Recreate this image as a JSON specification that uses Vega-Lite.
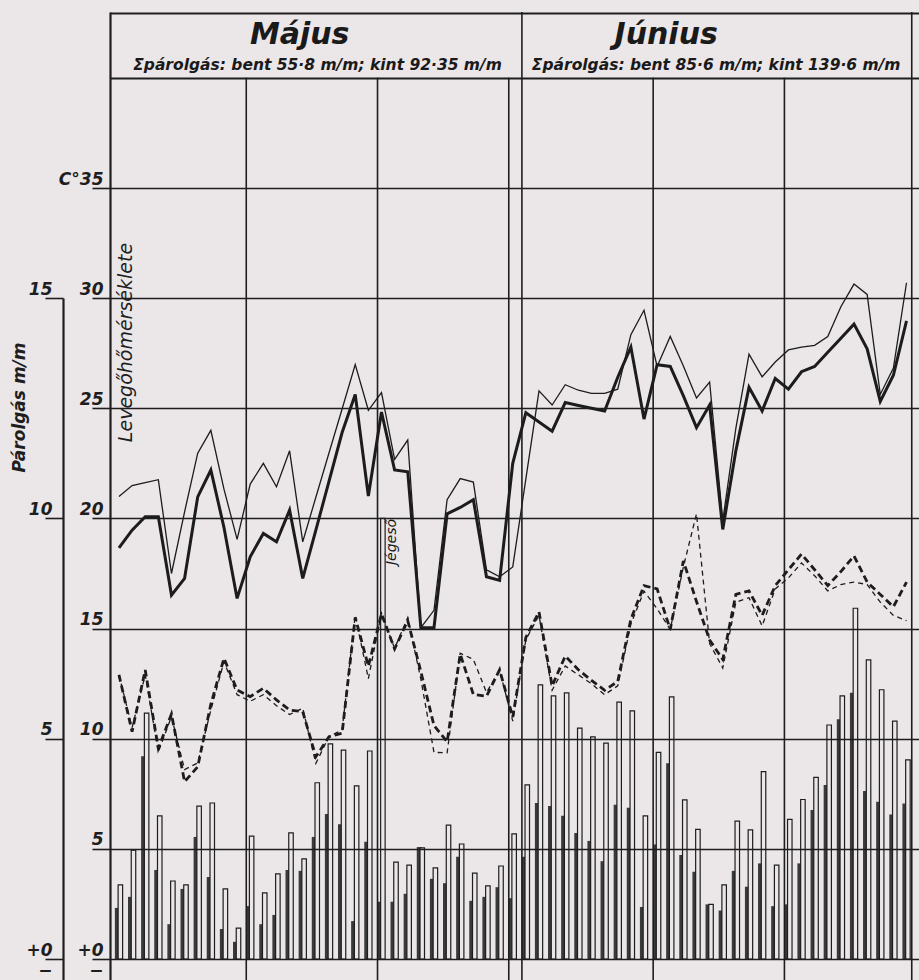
{
  "$schema": "https://vega.github.io/schema/vega-lite/v6.json",
  "width": 809,
  "height": 968,
  "autosize": {"type": "none"},
  "padding": {"left": 110, "top": 12, "right": 0, "bottom": 0},
  "background": "#ebe6e8",
  "config": {"view": {"stroke": null}, "font": "DejaVu Sans"},
  "datasets": {
    "napok": [
      {"nap":1,"bent":1.16,"kint":1.68,"vekony":21.0,"vastag":18.66,"szv":12.9,"szk":12.9},
      {"nap":2,"bent":1.41,"kint":2.47,"vekony":21.49,"vastag":19.47,"szv":10.32,"szk":10.5},
      {"nap":3,"bent":4.6,"kint":5.58,"vekony":21.63,"vastag":20.08,"szv":13.12,"szk":12.9},
      {"nap":4,"bent":2.02,"kint":3.25,"vekony":21.76,"vastag":20.08,"szv":9.56,"szk":9.4},
      {"nap":5,"bent":0.79,"kint":1.77,"vekony":17.5,"vastag":16.52,"szv":11.12,"szk":11.0},
      {"nap":6,"bent":1.59,"kint":1.68,"vekony":20.3,"vastag":17.28,"szv":8.05,"szk":8.6},
      {"nap":7,"bent":2.77,"kint":3.47,"vekony":22.96,"vastag":20.98,"szv":8.73,"szk":8.9},
      {"nap":8,"bent":1.86,"kint":3.54,"vekony":24.0,"vastag":22.2,"szv":11.57,"szk":11.3},
      {"nap":9,"bent":0.68,"kint":1.59,"vekony":21.33,"vastag":19.59,"szv":13.65,"szk":13.5},
      {"nap":10,"bent":0.39,"kint":0.7,"vekony":19.05,"vastag":16.37,"szv":12.21,"szk":12.0},
      {"nap":11,"bent":1.2,"kint":2.79,"vekony":21.56,"vastag":18.26,"szv":11.91,"szk":11.7},
      {"nap":12,"bent":0.79,"kint":1.5,"vekony":22.5,"vastag":19.32,"szv":12.29,"szk":12.0},
      {"nap":13,"bent":1.0,"kint":1.93,"vekony":21.44,"vastag":18.94,"szv":11.76,"szk":11.5},
      {"nap":14,"bent":2.02,"kint":2.86,"vekony":23.07,"vastag":20.38,"szv":11.3,"szk":11.1},
      {"nap":15,"bent":2.0,"kint":2.27,"vekony":18.94,"vastag":17.28,"szv":11.23,"szk":11.38},
      {"nap":16,"bent":2.77,"kint":4.0,"vekony":20.96,"vastag":19.47,"szv":9.18,"szk":8.88},
      {"nap":17,"bent":3.29,"kint":4.88,"vekony":22.97,"vastag":21.68,"szv":10.09,"szk":10.1},
      {"nap":18,"bent":3.06,"kint":4.74,"vekony":24.97,"vastag":23.9,"szv":10.25,"szk":10.4},
      {"nap":19,"bent":0.86,"kint":3.93,"vekony":26.98,"vastag":25.63,"szv":15.51,"szk":15.6},
      {"nap":20,"bent":2.66,"kint":4.72,"vekony":24.91,"vastag":21.02,"szv":13.29,"szk":12.73},
      {"nap":21,"bent":1.3,"kint":10.0,"vekony":25.71,"vastag":24.83,"szv":15.67,"szk":15.7},
      {"nap":22,"bent":1.3,"kint":2.2,"vekony":22.68,"vastag":22.2,"szv":14.08,"szk":14.1},
      {"nap":23,"bent":1.48,"kint":2.13,"vekony":23.56,"vastag":22.12,"szv":15.36,"szk":15.5},
      {"nap":24,"bent":2.54,"kint":2.52,"vekony":15.04,"vastag":15.04,"szv":13.05,"szk":12.7},
      {"nap":25,"bent":1.82,"kint":2.07,"vekony":15.83,"vastag":15.04,"szv":10.6,"szk":9.38},
      {"nap":26,"bent":1.72,"kint":3.04,"vekony":20.85,"vastag":20.21,"szv":9.86,"szk":9.36},
      {"nap":27,"bent":2.32,"kint":2.61,"vekony":21.81,"vastag":20.5,"szv":13.84,"szk":13.88},
      {"nap":28,"bent":1.32,"kint":1.95,"vekony":21.65,"vastag":20.85,"szv":12.01,"szk":13.6},
      {"nap":29,"bent":1.41,"kint":1.66,"vekony":17.67,"vastag":17.35,"szv":11.93,"szk":12.1},
      {"nap":30,"bent":1.63,"kint":2.11,"vekony":17.35,"vastag":17.19,"szv":13.13,"szk":13.1},
      {"nap":31,"bent":1.38,"kint":2.84,"vekony":17.8,"vastag":22.5,"szv":10.98,"szk":10.8},
      {"nap":32,"bent":2.32,"kint":3.95,"vekony":21.8,"vastag":24.8,"szv":14.6,"szk":14.5},
      {"nap":33,"bent":3.54,"kint":6.22,"vekony":25.79,"vastag":24.38,"szv":15.76,"szk":15.6},
      {"nap":34,"bent":3.47,"kint":5.97,"vekony":25.15,"vastag":23.96,"szv":12.4,"szk":12.2},
      {"nap":35,"bent":3.25,"kint":6.04,"vekony":26.07,"vastag":25.26,"szv":13.75,"szk":13.3},
      {"nap":36,"bent":2.86,"kint":5.24,"vekony":25.82,"vastag":25.13,"szv":13.13,"szk":12.9},
      {"nap":37,"bent":2.68,"kint":5.04,"vekony":25.68,"vastag":25.0,"szv":12.65,"szk":12.5},
      {"nap":38,"bent":2.22,"kint":4.9,"vekony":25.68,"vastag":24.88,"szv":12.2,"szk":12.0},
      {"nap":39,"bent":3.5,"kint":5.83,"vekony":25.87,"vastag":26.41,"szv":12.6,"szk":12.4},
      {"nap":40,"bent":3.43,"kint":5.63,"vekony":28.34,"vastag":27.78,"szv":15.43,"szk":15.2},
      {"nap":41,"bent":1.18,"kint":3.25,"vekony":29.45,"vastag":24.51,"szv":16.95,"szk":16.7},
      {"nap":42,"bent":2.6,"kint":4.69,"vekony":26.9,"vastag":26.98,"szv":16.8,"szk":15.9},
      {"nap":43,"bent":4.44,"kint":5.95,"vekony":28.26,"vastag":26.9,"szv":14.96,"szk":14.96},
      {"nap":44,"bent":2.36,"kint":3.61,"vekony":26.92,"vastag":25.56,"szv":18.07,"szk":17.8},
      {"nap":45,"bent":1.98,"kint":2.94,"vekony":25.47,"vastag":24.12,"szv":16.23,"szk":20.21},
      {"nap":46,"bent":1.24,"kint":1.24,"vekony":26.19,"vastag":25.15,"szv":14.48,"szk":14.32},
      {"nap":47,"bent":1.1,"kint":1.68,"vekony":19.9,"vastag":19.5,"szv":13.6,"szk":13.21},
      {"nap":48,"bent":2.0,"kint":3.13,"vekony":24.1,"vastag":23.08,"szv":16.55,"szk":16.2},
      {"nap":49,"bent":1.64,"kint":2.93,"vekony":27.46,"vastag":25.95,"szv":16.71,"szk":16.4},
      {"nap":50,"bent":2.17,"kint":4.25,"vekony":26.43,"vastag":24.88,"szv":15.6,"szk":15.12},
      {"nap":51,"bent":1.2,"kint":2.13,"vekony":27.1,"vastag":26.35,"szv":16.95,"szk":16.8},
      {"nap":52,"bent":1.24,"kint":3.17,"vekony":27.65,"vastag":25.87,"szv":17.67,"szk":17.3},
      {"nap":53,"bent":2.17,"kint":3.62,"vekony":27.78,"vastag":26.66,"szv":18.38,"szk":17.98},
      {"nap":54,"bent":3.38,"kint":4.12,"vekony":27.86,"vastag":26.9,"szv":17.67,"szk":17.4},
      {"nap":55,"bent":3.95,"kint":5.31,"vekony":28.26,"vastag":27.54,"szv":16.95,"szk":16.71},
      {"nap":56,"bent":5.44,"kint":5.97,"vekony":29.61,"vastag":28.18,"szv":17.59,"szk":17.0},
      {"nap":57,"bent":6.04,"kint":7.96,"vekony":30.64,"vastag":28.82,"szv":18.3,"szk":17.11},
      {"nap":58,"bent":3.81,"kint":6.79,"vekony":30.17,"vastag":27.7,"szv":17.11,"szk":17.0},
      {"nap":59,"bent":3.57,"kint":6.11,"vekony":25.63,"vastag":25.31,"szv":16.55,"szk":16.2},
      {"nap":60,"bent":3.28,"kint":5.4,"vekony":26.83,"vastag":26.5,"szv":15.99,"szk":15.6},
      {"nap":61,"bent":3.53,"kint":4.52,"vekony":30.7,"vastag":28.97,"szv":17.11,"szk":15.36}
    ],
    "racs": [
      {"nap":10.5,"tol":-2,"ig":40},
      {"nap":20.5,"tol":-2,"ig":40},
      {"nap":30.5,"tol":-2,"ig":40},
      {"nap":31.5,"tol":-2,"ig":43},
      {"nap":41.5,"tol":-2,"ig":40},
      {"nap":51.5,"tol":-2,"ig":40},
      {"nap":61.2,"tol":-2,"ig":43}
    ],
    "feliratok": [
      {"nap":14.57,"hom":41.55,"szoveg":"Május","tipus":"cim"},
      {"nap":42.49,"hom":41.55,"szoveg":"Június","tipus":"cim"},
      {"nap":15.93,"hom":40.35,"szoveg":"Σpárolgás: bent 55·8 m/m; kint 92·35 m/m","tipus":"al"},
      {"nap":46.3,"hom":40.35,"szoveg":"Σpárolgás: bent 85·6 m/m; kint 139·6 m/m","tipus":"al"},
      {"nap":21.64,"hom":18.93,"szoveg":"Jégeső","tipus":"jeg"}
    ]
  },
  "layer": [
    {
      "data": {"name": "napok"},
      "encoding": {
        "x": {"field": "nap", "type": "quantitative", "scale": {"domain": [0.5, 61.372], "nice": false, "zero": false}, "axis": null}
      },
      "layer": [
        {
          "mark": {"type": "bar", "width": 5, "color": "#3a3a3a", "xOffset": -4.2},
          "encoding": {
            "y": {"field": "bent", "type": "quantitative",
              "scale": {"domain": [-0.4765, 15], "range": [968, 286], "nice": false, "zero": false},
              "axis": {
                "orient": "left", "offset": 47, "values": [0, 5, 10, 15],
                "domain": true, "domainColor": "#1e1e1e", "domainWidth": 2.2,
                "ticks": true, "tickSize": 18, "tickColor": "#1e1e1e", "tickWidth": 1.6,
                "grid": false,
                "labelExpr": "datum.value == 0 ? ['+0', '−\u00a0\u00a0'] : format(datum.value, 'd')",
                "labelFont": "DejaVu Sans", "labelFontSize": 17, "labelFontStyle": "italic", "labelFontWeight": "bold", "labelColor": "#1e1e1e",
                "labelPadding": -7, "labelBaseline": "alphabetic", "labelOffset": -4, "labelLineHeight": 20,
                "labelOverlap": false, "labelBound": false, "labelFlush": false,
                "title": "Párolgás m/m", "titleX": -44, "titleY": 395, "titleAngle": 270, "titleAlign": "center", "titleBaseline": "middle",
                "titleFont": "DejaVu Sans", "titleFontSize": 17, "titleFontStyle": "italic", "titleFontWeight": "bold", "titleColor": "#1e1e1e",
                "zindex": 1
              }
            },
            "y2": {"datum": 0}
          }
        },
        {
          "mark": {"type": "bar", "width": 4.5, "fill": "#ebe6e8", "stroke": "#1e1e1e", "strokeWidth": 1.2, "xOffset": -1.2},
          "encoding": {
            "y": {"field": "kint", "type": "quantitative", "scale": {"domain": [-0.4765, 15], "range": [968, 286], "nice": false, "zero": false}},
            "y2": {"datum": 0}
          }
        }
      ]
    },
    {
      "encoding": {
        "x": {"field": "nap", "type": "quantitative", "scale": {"domain": [0.5, 61.372], "nice": false, "zero": false}, "axis": null}
      },
      "layer": [
        {
          "data": {"name": "racs"},
          "mark": {"type": "rule", "color": "#1e1e1e", "strokeWidth": 1.6, "clip": true},
          "encoding": {
            "y": {"field": "tol", "type": "quantitative",
              "scale": {"domain": [-0.953, 42.99], "nice": false, "zero": false},
              "axis": {
                "orient": "left", "values": [0, 5, 10, 15, 20, 25, 30, 35, 40, 42.95],
                "domain": true, "domainColor": "#1e1e1e", "domainWidth": 2.2,
                "ticks": true, "tickSize": 18, "tickColor": "#1e1e1e", "tickWidth": 1.6,
                "tickOpacity": {"condition": {"test": "datum.value > 36", "value": 0}, "value": 1},
                "grid": true, "gridColor": "#1e1e1e", "gridOpacity": 1,
                "gridWidth": {"condition": {"test": "datum.value > 36", "value": 2.2}, "value": 1.5},
                "labelExpr": "datum.value == 35 ? 'C°35' : datum.value == 0 ? ['+0', '−\u00a0\u00a0'] : datum.value > 36 ? '' : format(datum.value, 'd')",
                "labelFont": "DejaVu Sans", "labelFontSize": 17, "labelFontStyle": "italic", "labelFontWeight": "bold", "labelColor": "#1e1e1e",
                "labelPadding": -11, "labelBaseline": "alphabetic", "labelOffset": -4, "labelLineHeight": 20,
                "labelOverlap": false, "labelBound": false, "labelFlush": false,
                "title": "Levegőhőmérséklete", "titleX": 15, "titleY": 330, "titleAngle": 270, "titleAlign": "center", "titleBaseline": "middle",
                "titleFont": "DejaVu Sans", "titleFontSize": 19, "titleFontStyle": "italic", "titleFontWeight": "normal", "titleColor": "#1e1e1e",
                "zindex": 1
              }
            },
            "y2": {"field": "ig"}
          }
        },
        {
          "data": {"name": "napok"},
          "mark": {"type": "line", "stroke": "#1c1c1c", "strokeWidth": 1.3, "xOffset": -2.6},
          "encoding": {"y": {"field": "vekony", "type": "quantitative", "scale": {"domain": [-0.953, 42.99], "nice": false, "zero": false}}}
        },
        {
          "data": {"name": "napok"},
          "mark": {"type": "line", "stroke": "#1c1c1c", "strokeWidth": 3, "xOffset": -2.6},
          "encoding": {"y": {"field": "vastag", "type": "quantitative", "scale": {"domain": [-0.953, 42.99], "nice": false, "zero": false}}}
        },
        {
          "data": {"name": "napok"},
          "mark": {"type": "line", "stroke": "#1c1c1c", "strokeWidth": 1.3, "strokeDash": [5, 4], "xOffset": -2.6},
          "encoding": {"y": {"field": "szk", "type": "quantitative", "scale": {"domain": [-0.953, 42.99], "nice": false, "zero": false}}}
        },
        {
          "data": {"name": "napok"},
          "mark": {"type": "line", "stroke": "#1c1c1c", "strokeWidth": 2.8, "strokeDash": [7, 4], "xOffset": -2.6},
          "encoding": {"y": {"field": "szv", "type": "quantitative", "scale": {"domain": [-0.953, 42.99], "nice": false, "zero": false}}}
        },
        {
          "data": {"name": "feliratok"},
          "transform": [{"filter": "datum.tipus == 'cim'"}],
          "mark": {"type": "text", "font": "DejaVu Sans", "fontSize": 30, "fontStyle": "italic", "fontWeight": "bold", "color": "#1a1a1a", "align": "center", "baseline": "alphabetic"},
          "encoding": {"y": {"field": "hom", "type": "quantitative", "scale": {"domain": [-0.953, 42.99], "nice": false, "zero": false}}, "text": {"field": "szoveg"}}
        },
        {
          "data": {"name": "feliratok"},
          "transform": [{"filter": "datum.tipus == 'al'"}],
          "mark": {"type": "text", "font": "DejaVu Sans", "fontSize": 15.5, "fontStyle": "italic", "fontWeight": "bold", "color": "#1a1a1a", "align": "center", "baseline": "alphabetic"},
          "encoding": {"y": {"field": "hom", "type": "quantitative", "scale": {"domain": [-0.953, 42.99], "nice": false, "zero": false}}, "text": {"field": "szoveg"}}
        },
        {
          "data": {"name": "feliratok"},
          "transform": [{"filter": "datum.tipus == 'jeg'"}],
          "mark": {"type": "text", "font": "DejaVu Sans", "fontSize": 14, "fontStyle": "italic", "color": "#1a1a1a", "align": "center", "baseline": "middle", "angle": 270},
          "encoding": {"y": {"field": "hom", "type": "quantitative", "scale": {"domain": [-0.953, 42.99], "nice": false, "zero": false}}, "text": {"field": "szoveg"}}
        }
      ]
    }
  ],
  "resolve": {"scale": {"y": "independent"}, "axis": {"y": "independent"}}
}
